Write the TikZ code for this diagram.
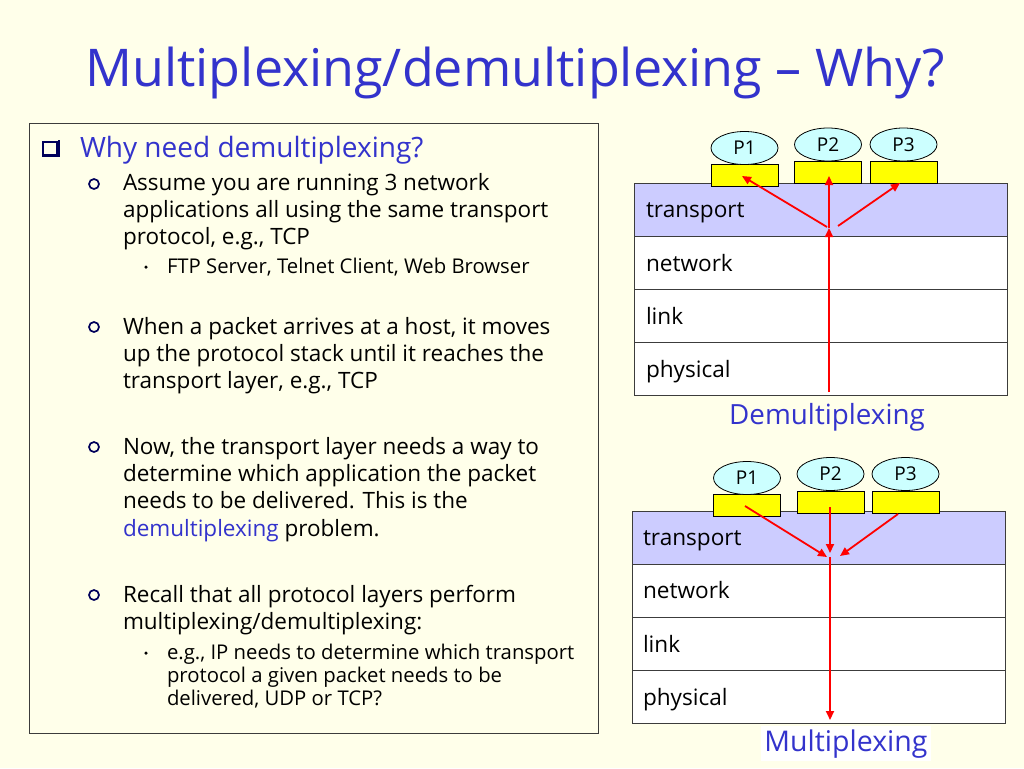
\documentclass[tikz,border=0pt]{standalone}
\usepackage{fontspec}
\setmainfont{Open Sans}
\usetikzlibrary{arrows.meta,shapes.geometric}
\definecolor{bg}{RGB}{255,255,234}
\definecolor{ttl}{RGB}{51,51,204}
\definecolor{lav}{RGB}{204,204,255}
\definecolor{cy}{RGB}{204,255,255}
\definecolor{nav}{RGB}{0,0,90}
\definecolor{ye}{RGB}{255,255,0}
\definecolor{edge}{RGB}{60,60,60}
\newcommand\fa{\fontsize{28}{32}\selectfont}
\newcommand\fb{\fontsize{22.5}{26}\selectfont}
\newcommand\fc{\fontsize{20.3}{24}\selectfont}
\newcommand\fl{\fontsize{22.6}{26}\selectfont}
\tikzset{
  txt/.style={anchor=base west,inner sep=0pt,outer sep=0pt},
  lvtwo/.style={txt,font=\fb},
  lvthree/.style={txt,font=\fc},
  layerbox/.style={draw=edge,line width=0.9pt,anchor=north west,minimum width=373pt,minimum height=53pt,inner sep=0pt},
  lab/.style={txt,font=\fl},
  proc/.style={ellipse,draw=black,line width=0.8pt,fill=cy,minimum width=67pt,minimum height=33pt,inner sep=0pt,font=\fontsize{19}{22}\selectfont},
  sock/.style={draw=black,line width=0.8pt,fill=ye,minimum width=67pt,minimum height=22pt,inner sep=0pt},
  arr/.style={draw=red,line width=1.8pt,-{Triangle[length=9pt,width=8pt]}},
  bul/.style={circle,draw=nav,line width=1.7pt,minimum size=10pt,inner sep=0pt},
  dotb/.style={circle,fill=black,minimum size=3.5pt,inner sep=0pt},
}
\begin{document}
\begin{tikzpicture}[x=1pt,y=-1pt]
\fill[bg] (0,0) rectangle (1024,768);
\useasboundingbox (0,0) rectangle (1024,768);
% title
\node[anchor=base,inner sep=0pt,text=ttl,font=\fontsize{52}{56}\selectfont] (title) at (515,86) {Multiplexing/demultiplexing – Why?};
% left box
\node[draw=edge,line width=0.9pt,anchor=north west,minimum width=569pt,minimum height=610pt,inner sep=0pt] (lbox) at (29,123) {};
% level 1
\node[draw=nav,line width=1.3pt,minimum size=14pt,inner sep=0pt] (sq) at (50,149) {};
\draw[nav,line width=2.2pt] ([xshift=1.5pt,yshift=1.2pt]sq.south west) -- ([xshift=1.5pt,yshift=1.2pt]sq.south east) -- ([xshift=1.5pt,yshift=1.5pt]sq.north east);
\node[txt,text=ttl,font=\fa] (h1) at (80,157) {Why need demultiplexing?};
% bullet 1
\node[bul] (b1) at (94,184) {};
\node[lvtwo] (t1) at (123,190) {Assume you are running 3 network};
\node[lvtwo] (t2) at (123,217) {applications all using the same transport};
\node[lvtwo] (t3) at (123,244) {protocol, e.g., TCP};
\node[dotb] (d1) at (146,267) {};
\node[lvthree] (t4) at (167,273) {FTP Server, Telnet Client, Web Browser};
% bullet 2
\node[bul] (b2) at (94,327) {};
\node[lvtwo] (t5) at (123,334) {When a packet arrives at a host, it moves};
\node[lvtwo] (t6) at (123,361) {up the protocol stack until it reaches the};
\node[lvtwo] (t7) at (123,388) {transport layer, e.g., TCP};
% bullet 3
\node[bul] (b3) at (94,447) {};
\node[lvtwo] (t8) at (123,454) {Now, the transport layer needs a way to};
\node[lvtwo] (t9) at (123,481) {determine which application the packet};
\node[lvtwo] (t10) at (123,508) {needs to be delivered. This is the};
\node[lvtwo] (t11) at (123,536) {\textcolor{ttl}{demultiplexing} problem.};
% bullet 4
\node[bul] (b4) at (94,595) {};
\node[lvtwo] (t12) at (123,602) {Recall that all protocol layers perform};
\node[lvtwo] (t13) at (123,629) {multiplexing/demultiplexing:};
\node[dotb] (d2) at (146,653) {};
\node[lvthree] (t14) at (167,659) {e.g., IP needs to determine which transport};
\node[lvthree] (t15) at (167,682) {protocol a given packet needs to be};
\node[lvthree] (t16) at (167,705) {delivered, UDP or TCP?};

% ===== top stack (demultiplexing)
\node[layerbox,fill=lav] (ta) at (634,183) {};
\node[layerbox,fill=white] (tb) at (634,236) {};
\node[layerbox,fill=white] (tc) at (634,289) {};
\node[layerbox,fill=white] (td) at (634,342) {};
\node[lab] (tla) at (646,217) {transport};
\node[lab] (tlb) at (646,271) {network};
\node[lab] (tlc) at (646,324) {link};
\node[lab] (tld) at (646,377) {physical};
\node[sock] (ts1) at (744.5,175) {};
\node[sock] (ts2) at (828,172.5) {};
\node[sock] (ts3) at (903.5,172.5) {};
\node[proc] (tp1) at (744.5,148) {P1};
\node[proc] (tp2) at (828,144.5) {P2};
\node[proc] (tp3) at (903.5,144.5) {P3};
\coordinate (tbot) at (829,392);
\coordinate (tjoin) at (829,228);
\coordinate (tj1) at (827,227);
\coordinate (tj3) at (838,226);
\coordinate (te1) at (742,176);
\coordinate (te2) at (829,176);
\coordinate (te3) at (900,183);
\draw[arr] (tbot) -- (tjoin);
\draw[arr] (tj1) -- (te1);
\draw[arr] (tjoin) -- (te2);
\draw[arr] (tj3) -- (te3);
\node[anchor=base,inner sep=0pt,text=ttl,font=\fontsize{27.8}{32}\selectfont] (demux) at (827,424) {Demultiplexing};

% ===== bottom stack (multiplexing)
\node[layerbox,fill=lav] (ba) at (632,511) {};
\node[layerbox,fill=white] (bb) at (632,564) {};
\node[layerbox,fill=white] (bc) at (632,617) {};
\node[layerbox,fill=white] (bd) at (632,670) {};
\node[lab] (bla) at (643,545) {transport};
\node[lab] (blb) at (643,598) {network};
\node[lab] (blc) at (643,652) {link};
\node[lab] (bld) at (643,705) {physical};
\node[sock] (bs1) at (747,505) {};
\node[sock] (bs2) at (830.5,502.5) {};
\node[sock] (bs3) at (905.5,502.5) {};
\node[proc] (bp1) at (747,478) {P1};
\node[proc] (bp2) at (830.5,474) {P2};
\node[proc] (bp3) at (905.5,474) {P3};
\coordinate (bs1c) at (745,506);
\coordinate (bs2c) at (830,507);
\coordinate (bs3c) at (898,514);
\coordinate (bm1) at (827,557);
\coordinate (bm2) at (830,553);
\coordinate (bm3) at (840,556);
\coordinate (bjoin) at (830,557);
\coordinate (bbot) at (830,720);
\draw[arr] (bs1c) -- (bm1);
\draw[arr] (bs2c) -- (bm2);
\draw[arr] (bs3c) -- (bm3);
\draw[arr] (bjoin) -- (bbot);
\node[anchor=base,inner sep=3pt,fill=white,text=ttl,font=\fontsize{28.5}{32}\selectfont] (mux) at (846,751) {Multiplexing};
\end{tikzpicture}
\end{document}
